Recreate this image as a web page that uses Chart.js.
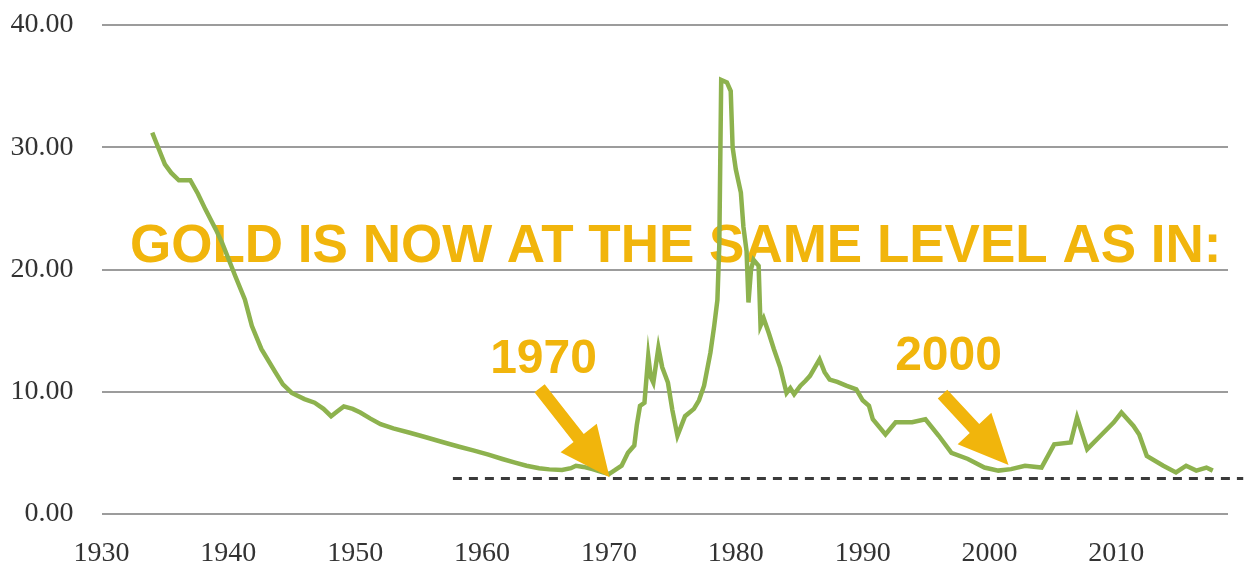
<!DOCTYPE html>
<html>
<head>
<meta charset="utf-8">
<title>Gold / Dow ratio</title>
<script src="https://cdn.jsdelivr.net/npm/chart.js@4.4.1/dist/chart.umd.min.js"></script>
<style>
  html, body { margin: 0; padding: 0; background: #fff; }
  #chart { display: block; }
</style>
</head>
<body>
<canvas id="chart" width="1256" height="565"></canvas>
<script>
// ratio series
var years = [
  1934.0, 1934.5, 1935.0, 1935.5, 1936.1, 1937.0, 1937.6, 1938.2, 1939.0, 1939.5,
  1940.0, 1940.55, 1941.3, 1941.85, 1942.6, 1943.7, 1944.3, 1945.0, 1946.0, 1946.8,
  1947.5, 1948.1, 1948.6, 1949.1, 1949.8, 1950.4, 1951.2, 1952.0, 1953.0, 1954.3,
  1955.5, 1957.0, 1958.2, 1959.3, 1960.5, 1961.6, 1962.6, 1963.5, 1964.5, 1965.3,
  1966.3, 1967.0, 1967.4, 1968.0, 1968.7, 1969.4, 1970.0, 1970.5, 1971.0, 1971.5,
  1972.0, 1972.2, 1972.45, 1972.8, 1973.1, 1973.3, 1973.5, 1973.9, 1974.2, 1974.65,
  1975.0, 1975.4, 1976.0, 1976.7, 1977.1, 1977.5, 1978.0, 1978.3, 1978.55, 1978.7,
  1978.85, 1979.3, 1979.6, 1979.75, 1980.0, 1980.4, 1980.6, 1980.85, 1981.0, 1981.2,
  1981.4, 1981.8, 1981.95, 1982.2, 1982.6, 1983.0, 1983.5, 1984.0, 1984.3, 1984.6,
  1985.1, 1985.5, 1985.85, 1986.6, 1987.0, 1987.4, 1988.0, 1988.7, 1989.5, 1990.0,
  1990.5, 1990.8, 1991.8, 1992.6, 1993.9, 1994.95, 1996.0, 1997.0, 1998.3, 1999.6,
  2000.7, 2001.7, 2002.8, 2004.1, 2005.1, 2006.4, 2006.9, 2007.7, 2008.75, 2009.8,
  2010.4, 2011.35, 2011.8, 2012.4, 2013.7, 2014.7, 2015.5, 2016.3, 2017.1, 2017.6
];
var ratio = [
  31.2, 29.9, 28.6, 27.9, 27.3, 27.3, 26.2, 24.9, 23.3, 22.2,
  20.9, 19.45, 17.55, 15.4, 13.5, 11.6, 10.6, 9.9, 9.4, 9.1,
  8.6, 8.0, 8.4, 8.8, 8.6, 8.3, 7.8, 7.35, 7.0, 6.65,
  6.3, 5.85, 5.5, 5.2, 4.85, 4.5, 4.2, 3.95, 3.75, 3.65,
  3.6, 3.75, 3.95, 3.85, 3.67, 3.45, 3.27, 3.6, 3.95, 5.0,
  5.6, 7.3, 8.85, 9.1, 12.9, 11.2, 10.75, 13.6, 12.0, 10.75,
  8.5, 6.4, 8.0, 8.6, 9.3, 10.5, 13.2, 15.4, 17.5, 22.0,
  35.5, 35.3, 34.6, 30.0, 28.2, 26.3, 23.5, 21.5, 17.3, 20.0,
  20.8, 20.3, 15.4, 16.0, 14.8, 13.5, 12.0, 9.9, 10.3, 9.8,
  10.5, 10.9, 11.3, 12.65, 11.6, 11.0, 10.8, 10.5, 10.2, 9.3,
  8.85, 7.75, 6.5, 7.5, 7.5, 7.75, 6.4, 5.0, 4.5, 3.8,
  3.55, 3.67, 3.95, 3.8, 5.7, 5.85, 7.9, 5.3, 6.4, 7.5,
  8.3, 7.2, 6.5, 4.75, 3.95, 3.4, 3.95, 3.55, 3.8, 3.55
];

// dashed "same level" line
var levelYears = [1957.7, 2020.0];
var levelValue = 2.9;

// axis
var yTicks = [0, 10, 20, 30, 40];
var xTickYears = [1930, 1940, 1950, 1960, 1970, 1980, 1990, 2000, 2010];

// annotations
var headline = "GOLD IS NOW AT THE SAME LEVEL AS IN:";
var calloutLabels = ["1970", "2000"];
var calloutYears = [1970.05, 2001.5];
var calloutValues = [3.0, 4.0];

var GREEN = "#8db24e";
var ORANGE = "#f1b50c";

var goldPoints = years.map(function (y, i) { return { x: y, y: ratio[i] }; });
var levelPoints = levelYears.map(function (y) { return { x: y, y: levelValue }; });

// arrow + label placement, in pixels relative to the arrow tip
var calloutStyle = [
  { tail: [-70, -89], label: [-66, -104] },
  { tail: [-66, -71], label: [-60, -95] }
];

function drawArrow(ctx, x0, y0, x1, y1) {
  var dx = x1 - x0, dy = y1 - y0;
  var len = Math.sqrt(dx * dx + dy * dy);
  var ux = dx / len, uy = dy / len;
  var px = -uy, py = ux;
  var shaft = 6.5, head = 23, headLen = 50;
  var bx = x1 - ux * headLen, by = y1 - uy * headLen;
  ctx.beginPath();
  ctx.moveTo(x0 + px * shaft, y0 + py * shaft);
  ctx.lineTo(bx + px * shaft, by + py * shaft);
  ctx.lineTo(bx + px * head, by + py * head);
  ctx.lineTo(x1, y1);
  ctx.lineTo(bx - px * head, by - py * head);
  ctx.lineTo(bx - px * shaft, by - py * shaft);
  ctx.lineTo(x0 - px * shaft, y0 - py * shaft);
  ctx.closePath();
  ctx.fill();
}

var calloutPlugin = {
  id: "callouts",
  beforeDatasetsDraw: function (chart) {
    var ctx = chart.ctx, xs = chart.scales.x, ys = chart.scales.y;
    ctx.save();
    ctx.fillStyle = ORANGE;
    ctx.textBaseline = "alphabetic";
    ctx.font = "bold 53px 'Liberation Sans', Arial, sans-serif";
    ctx.textAlign = "left";
    ctx.fillText(headline, 130, 262);
    ctx.font = "bold 48px 'Liberation Sans', Arial, sans-serif";
    ctx.textAlign = "center";
    for (var i = 0; i < calloutLabels.length; i++) {
      var tx = xs.getPixelForValue(calloutYears[i]);
      var ty = ys.getPixelForValue(calloutValues[i]);
      ctx.fillText(calloutLabels[i], tx + calloutStyle[i].label[0], ty + calloutStyle[i].label[1]);
    }
    ctx.restore();
  },
  afterDatasetsDraw: function (chart) {
    var ctx = chart.ctx, xs = chart.scales.x, ys = chart.scales.y;
    ctx.save();
    ctx.fillStyle = ORANGE;
    for (var i = 0; i < calloutLabels.length; i++) {
      var tx = xs.getPixelForValue(calloutYears[i]);
      var ty = ys.getPixelForValue(calloutValues[i]);
      drawArrow(ctx, tx + calloutStyle[i].tail[0], ty + calloutStyle[i].tail[1], tx, ty);
    }
    ctx.restore();
  }
};

var serif = "'Liberation Serif', 'Times New Roman', serif";

new Chart(document.getElementById("chart"), {
  type: "line",
  data: {
    datasets: [{
      data: goldPoints,
      borderColor: GREEN,
      borderWidth: 4.5,
      pointRadius: 0,
      tension: 0,
      fill: false
    }, {
      data: levelPoints,
      borderColor: "#3a3a3a",
      borderWidth: 3,
      borderDash: [9, 7],
      pointRadius: 0,
      fill: false,
      clip: false
    }]
  },
  options: {
    responsive: false,
    animation: false,
    layout: { padding: { top: 25, right: 28, left: 0, bottom: 0 } },
    plugins: { legend: { display: false }, tooltip: { enabled: false } },
    scales: {
      x: {
        type: "linear",
        min: 1930,
        max: 2018.8,
        afterFit: function (s) { s.height = 51; },
        afterBuildTicks: function (s) { s.ticks = xTickYears.map(function (v) { return { value: v }; }); },
        grid: { display: false },
        border: { display: false },
        ticks: {
          padding: 15,
          color: "#333",
          font: { family: serif, size: 28 },
          maxRotation: 0,
          callback: function (v) { return String(v); }
        }
      },
      y: {
        min: 0,
        max: 40,
        afterFit: function (s) {
          s.width = 101.5;
          // tick padding would otherwise push the plot down
          s.paddingTop = 0;
          s.paddingBottom = 0;
        },
        afterBuildTicks: function (s) { s.ticks = yTicks.map(function (v) { return { value: v }; }); },
        grid: { color: "#9c9c9c", lineWidth: 2, drawTicks: false },
        border: { display: false },
        ticks: {
          padding: 28,
          color: "#333",
          font: { family: serif, size: 28 },
          callback: function (v) { return v.toFixed(2); }
        }
      }
    }
  },
  plugins: [calloutPlugin]
});
</script>
</body>
</html>
